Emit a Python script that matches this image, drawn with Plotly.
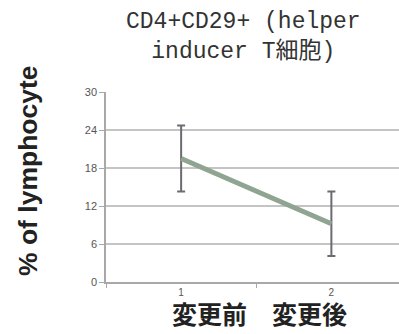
import plotly.graph_objects as go

categories = ["1", "2"]
means = [19.5, 9.2]
errors = [5.2, 5.1]
y_ticks = [0, 6, 12, 18, 24, 30]
title_text = "CD4+CD29+ (helper<br>inducer T細胞)"
y_label = "% of lymphocyte"
x_label = "変更前　変更後"

W, H = 399, 334
L, R, T = 106, 0, 92
B = H - 282
pw, ph = W - L - R, H - T - B

def px(x):
    return (x - L) / pw

def py(y):
    return (H - B - y) / ph

fig = go.Figure()
fig.add_trace(go.Scatter(
    x=categories, y=means, mode="lines",
    line=dict(color="#8fa592", width=5),
    error_y=dict(type="data", array=errors, visible=True,
                 color="#6b6b73", thickness=2, width=4),
    showlegend=False, hoverinfo="skip",
))

fig.update_layout(
    width=W, height=H,
    margin=dict(l=L, r=R, t=T, b=B),
    paper_bgcolor="white", plot_bgcolor="white",
    xaxis=dict(
        type="category", range=[-0.5, 1.45], tickson="boundaries",
        showgrid=False, showline=True, linecolor="#a8a8a8", linewidth=1.5,
        ticks="outside", ticklen=4, tickcolor="#a8a8a8",
        tickfont=dict(family="Liberation Sans, Arial", size=10, color="#555"),
        zeroline=False,
    ),
    yaxis=dict(
        range=[0, 30], tickvals=y_ticks,
        showgrid=True, gridcolor="#c4c4c4", gridwidth=1.5,
        showline=True, linecolor="#a8a8a8", linewidth=1.5,
        ticks="outside", ticklen=5, tickcolor="#a8a8a8",
        tickfont=dict(family="Liberation Sans, Arial", size=11, color="#555"),
        zeroline=False,
    ),
    annotations=[
        dict(text=title_text, xref="paper", yref="paper",
             x=px(243), y=py(37), xanchor="center", yanchor="middle",
             showarrow=False,
             font=dict(family="Liberation Mono, Courier New, Noto Sans CJK JP", size=23, color="#333")),
        dict(text="<b>" + y_label + "</b>", xref="paper", yref="paper",
             x=px(28), y=py(171), xanchor="center", yanchor="middle",
             textangle=-90, showarrow=False,
             font=dict(family="Liberation Sans, Arial", size=26.5, color="#222")),
        dict(text="<b>" + x_label + "</b>", xref="paper", yref="paper",
             x=px(259), y=py(313), xanchor="center", yanchor="middle",
             showarrow=False,
             font=dict(family="Noto Sans CJK JP", size=25, color="#222")),
    ],
)

fig.write_html(
    "out.html",
    config={"displayModeBar": False},
    post_script="document.body.style.margin='0';document.body.style.overflow='hidden';",
)
